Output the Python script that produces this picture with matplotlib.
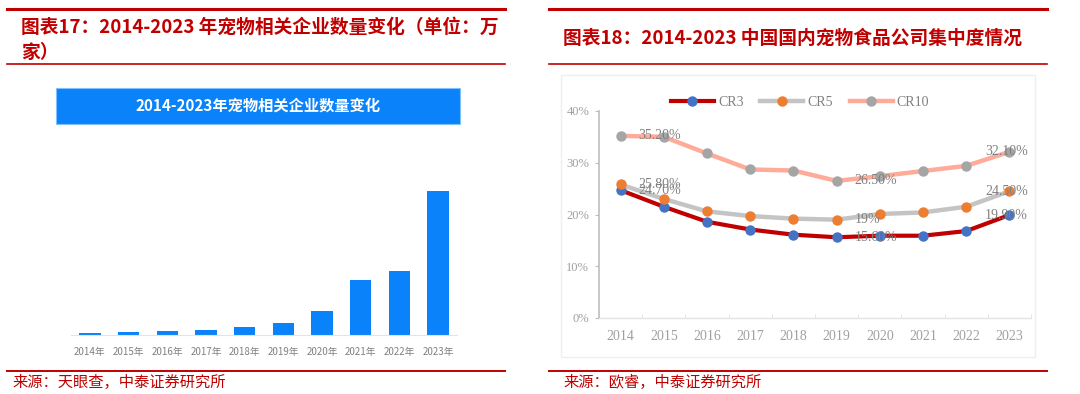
import matplotlib
matplotlib.use('Agg')
import matplotlib.pyplot as plt
from matplotlib.patches import Rectangle
from matplotlib.lines import Line2D
import numpy as np

plt.rcParams['font.family'] = ['Noto Sans CJK SC', 'DejaVu Sans']

# left chart: number of pet related companies (万家)
bar_years = ['2014年', '2015年', '2016年', '2017年', '2018年',
             '2019年', '2020年', '2021年', '2022年', '2023年']
bar_values = [0.23, 0.30, 0.40, 0.50, 0.77, 1.23, 2.40, 5.50, 6.40, 14.40]

# right chart: concentration of pet food companies (%)
years = ['2014', '2015', '2016', '2017', '2018', '2019', '2020', '2021', '2022', '2023']
cr3 = [24.7, 21.5, 18.6, 17.1, 16.1, 15.6, 15.9, 15.9, 16.8, 19.9]
cr5 = [25.8, 23.0, 20.6, 19.7, 19.2, 19.0, 20.1, 20.4, 21.5, 24.5]
cr10 = [35.2, 35.0, 31.8, 28.7, 28.5, 26.5, 27.4, 28.4, 29.4, 32.1]

W, H = 1080, 394
RED = '#C00000'


def fx(x):
    return x / W


def fy(y):
    return 1 - y / H


fig = plt.figure(figsize=(W / 100, H / 100), dpi=100)

# header / footer rules
for x0, x1 in [(7, 505), (549, 1047)]:
    fig.add_artist(Line2D([fx(x0), fx(x1)], [fy(9), fy(9)], color=RED, lw=2.2))
    fig.add_artist(Line2D([fx(x0), fx(x1)], [fy(64), fy(64)], color=RED, lw=1.2))
    fig.add_artist(Line2D([fx(x0), fx(x1)], [fy(371), fy(371)], color=RED, lw=1.4))

fig.text(fx(21), fy(27), '图表17：2014-2023 年宠物相关企业数量变化（单位：万',
         color=RED, fontsize=13.5, fontweight='bold', va='center', ha='left')
fig.text(fx(21), fy(52), '家）', color=RED, fontsize=13.5, fontweight='bold',
         va='center', ha='left')
fig.text(fx(563), fy(38), '图表18：2014-2023 中国国内宠物食品公司集中度情况',
         color=RED, fontsize=13.5, fontweight='bold', va='center', ha='left')

fig.text(fx(12), fy(382), '来源：天眼查，中泰证券研究所', color=RED, fontsize=11,
         va='center', ha='left')
fig.text(fx(563), fy(382), '来源：欧睿，中泰证券研究所', color=RED, fontsize=11,
         va='center', ha='left')

# ---- left chart ----
fig.add_artist(Rectangle((fx(56), fy(124)), (460 - 56) / W, (124 - 88) / H,
                         transform=fig.transFigure, facecolor='#0A82FA',
                         edgecolor='#7FC0FF', lw=0.8))
fig.text(fx(258), fy(106), '2014-2023年宠物相关企业数量变化', color='white',
         fontsize=11, fontweight='bold', ha='center', va='center')

ax1 = fig.add_axes([fx(70.6), fy(335), (457.4 - 70.6) / W, (335 - 150) / H])
x1 = np.arange(len(bar_years))
ax1.bar(x1, bar_values, width=0.55, color='#0A82FA')
ax1.set_xlim(-0.5, 9.5)
ax1.set_ylim(0, 14.4 * 185 / 144)
ax1.set_xticks(x1)
ax1.set_xticklabels(bar_years, fontsize=7, color='#808080')
ax1.tick_params(axis='x', length=0, pad=9)
ax1.set_yticks([])
for s in ['top', 'right', 'left']:
    ax1.spines[s].set_visible(False)
ax1.spines['bottom'].set_color('#E3E3E3')
ax1.spines['bottom'].set_linewidth(0.8)

# ---- right chart ----
fig.add_artist(Rectangle((fx(561), fy(357)), (1035 - 561) / W, (357 - 75) / H,
                         transform=fig.transFigure, facecolor='none',
                         edgecolor='#EFEFEF', lw=1))

ax2 = fig.add_axes([fx(599), fy(318), (1031 - 599) / W, (318 - 111) / H])
x2 = np.arange(len(years))
l3, = ax2.plot(x2, cr3, color=RED, lw=3, marker='o', ms=7.5,
               markerfacecolor='#4472C4', markeredgewidth=0, label='CR3')
l5, = ax2.plot(x2, cr5, color='#C4C4C4', lw=3.2, marker='o', ms=7.5,
               markerfacecolor='#ED7D31', markeredgewidth=0, label='CR5')
l10, = ax2.plot(x2, cr10, color='#FFAB9A', lw=3.2, marker='o', ms=7.5,
                markerfacecolor='#A5A5A5', markeredgewidth=0, label='CR10')

ax2.set_xlim(-0.5, 9.5)
ax2.set_ylim(0, 40)
ax2.set_yticks([0, 10, 20, 30, 40])
ax2.set_yticklabels(['0%', '10%', '20%', '30%', '40%'],
                    fontsize=9, color='#A0A0A0', family=['Liberation Serif'])
ax2.set_xticks(x2)
ax2.set_xticklabels(years, fontsize=10, color='#A0A0A0', family=['Liberation Serif'])
ax2.set_xticks(np.arange(-0.5, 10, 1), minor=True)
ax2.tick_params(axis='x', which='major', length=0, pad=9)
ax2.tick_params(axis='x', which='minor', length=3, direction='in', color='#E0E0E0')
ax2.tick_params(axis='y', length=3, color='#BFBFBF', pad=4)
for s in ['top', 'right']:
    ax2.spines[s].set_visible(False)
ax2.spines['left'].set_color('#BFBFBF')
ax2.spines['left'].set_linewidth(1.2)
ax2.spines['bottom'].set_color('#E3E3E3')
ax2.spines['bottom'].set_linewidth(1)

# data labels: first, 2019 and last point of each series
label_color = '#808080'
for series in [cr10, cr5, cr3]:
    for i in [0, 5]:
        v = series[i]
        txt = '19%' if v == 19.0 else f'{v:.2f}%'
        ax2.annotate(txt, (i, v), xytext=(13, 0), textcoords='offset points',
                     ha='left', va='center', fontsize=10, color=label_color,
                     family=['Liberation Serif'])
    ax2.annotate(f'{series[9]:.2f}%', (9, series[9]), xytext=(-2, 0),
                 textcoords='offset points', ha='center', va='center',
                 fontsize=10, color=label_color, family=['Liberation Serif'])

leg = fig.legend(handles=[l3, l5, l10], loc='center', ncol=3, frameon=False,
                 bbox_to_anchor=(fx(800), fy(102)), handlelength=3.1,
                 handletextpad=0.3, columnspacing=1.2,
                 prop={'family': ['Liberation Serif'], 'size': 10})
for t in leg.get_texts():
    t.set_color('#808080')

fig.savefig('out.png', dpi=100)
